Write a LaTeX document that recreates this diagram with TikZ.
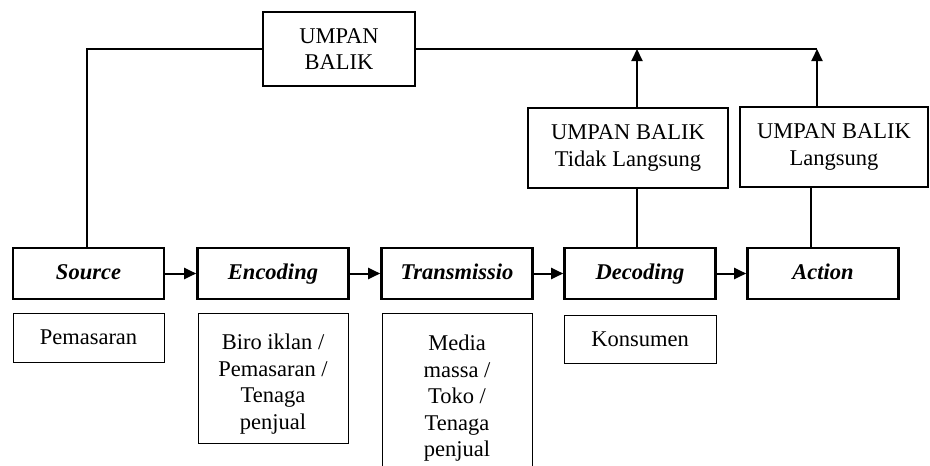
\documentclass[tikz,border=0pt]{standalone}
\usepackage{fontspec}
\setmainfont{Liberation Serif}
\usetikzlibrary{arrows.meta}
\begin{document}
\begin{tikzpicture}[x=1pt,y=-1pt,
  font=\fontsize{22.5}{26.5}\selectfont,
  mainbox/.style={draw, line width=2.6pt, minimum width=151pt, minimum height=51pt, inner sep=0pt, text height=16pt, text depth=4pt, font=\fontsize{22.5}{26.5}\selectfont\bfseries\itshape},
  fbbox/.style={draw, line width=1.8pt, inner sep=0pt, align=center},
  subbox/.style={draw, line width=0.9pt, inner sep=0pt, align=center},
  txt/.style={anchor=north, align=center, inner sep=0pt},
  conn/.style={line width=1.1pt},
  subline/.style={line width=0.9pt},
  arr/.style={line width=2pt, -{Triangle[length=12pt,width=11pt]}}
]
\useasboundingbox (0,0) rectangle (930,466);

% main chain
\node[mainbox] (src) at (88.5,273.5) {Source};
\node[mainbox] (enc) at (273,273.5) {Encoding};
\node[mainbox] (tra) at (457,273.5) {Transmissio};
\node[mainbox] (dec) at (640,273.5) {Decoding};
\node[mainbox] (act) at (823,273.5) {Action};

\draw[arr] (src) -- (enc);
\draw[arr] (enc) -- (tra);
\draw[arr] (tra) -- (dec);
\draw[arr] (dec) -- (act);

% feedback boxes
\node[fbbox, minimum width=152pt, minimum height=74pt] (ub) at (339,49) {UMPAN\\BALIK};
\node[fbbox, minimum width=200pt, minimum height=80pt] (ubt) at (628,148) {UMPAN BALIK\\Tidak Langsung};
\node[fbbox, minimum width=188pt, minimum height=80pt] (ubl) at (834,147) {UMPAN BALIK\\Langsung};

\coordinate (tl) at (87,49);
\coordinate (a1) at (637,49);
\coordinate (a2) at (817,49);
\coordinate (d2) at (811,200);

\draw[conn] (tl |- src.north) -- (tl) -- (ub.west);
\draw[conn] (ub.east) -- (a2);
\draw[arr] (a1 |- ubt.north) -- (a1);
\draw[arr] (a2 |- ubl.north) -- (a2);
\draw[conn] (a1 |- ubt.south) -- (a1 |- dec.north);
\draw[conn] (d2 |- ubl.south) -- (d2 |- act.north);

% lower boxes
\node[subbox, minimum width=151pt, minimum height=49pt] (pem) at (88.5,337.5) {Pemasaran};
\node[subbox, minimum width=150pt, minimum height=130pt] (biro) at (273,378) {};
\node[txt] (birot) at (273,334) {Biro iklan /\\Pemasaran /\\Tenaga\\penjual};

\coordinate (mtl) at (382,313);
\coordinate (mtr) at (532,313);
\coordinate (mbl) at (382,468);
\coordinate (mbr) at (532,468);
\draw[subline] (mbl) -- (mtl) -- (mtr) -- (mbr);
\node[txt] (medt) at (457,335) {Media\\massa /\\Toko /\\Tenaga\\penjual};

\node[subbox, minimum width=152pt, minimum height=48pt] (kon) at (640,339) {Konsumen};
\end{tikzpicture}
\end{document}
